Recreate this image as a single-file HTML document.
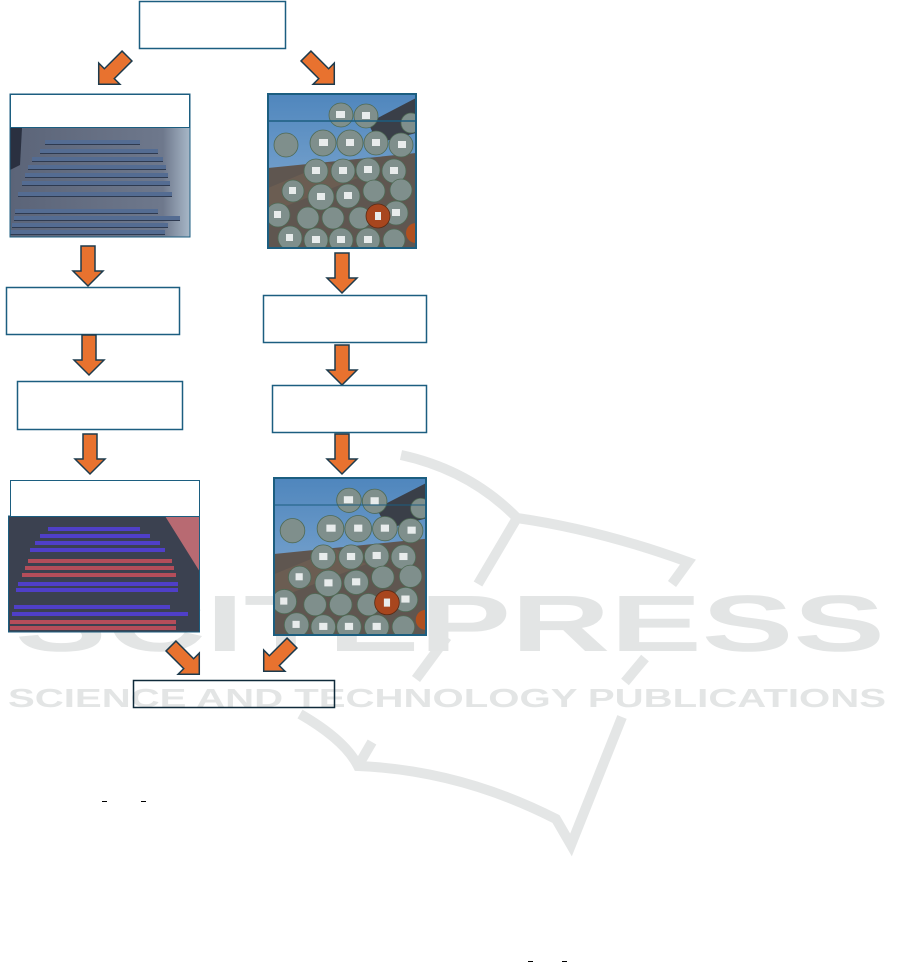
<!DOCTYPE html>
<html><head><meta charset="utf-8"><style>
html,body{margin:0;padding:0;background:#fff;}
svg{display:block;}
</style></head><body>
<svg width="901" height="969" viewBox="0 0 901 969" xmlns="http://www.w3.org/2000/svg">
<defs>
<path id="arr" d="M-7,0 H7 V25 H15 L0,40 L-15,25 H-7 Z" fill="#e8722f" stroke="#1d3b4d" stroke-width="1.5"/>
<linearGradient id="sky" x1="0" y1="0" x2="0" y2="1"><stop offset="0" stop-color="#4f86bd"/><stop offset="1" stop-color="#8fb3d6"/></linearGradient>
<linearGradient id="asph" x1="0" y1="0" x2="1" y2="0"><stop offset="0" stop-color="#5b6478"/><stop offset="0.85" stop-color="#6e788c"/><stop offset="1" stop-color="#a8b8c8"/></linearGradient>
<clipPath id="c1"><rect x="0" y="0" width="148" height="155"/></clipPath>
<g id="logs" clip-path="url(#c1)">
<rect x="0" y="0" width="148" height="155" fill="url(#sky)"/>
<path d="M100,30 L148,5 L148,40 L110,50Z" fill="#3a3f48"/>
<path d="M0,75 L148,60 L148,155 L0,155Z" fill="#5f5650"/>
<path d="M0,95 L60,70 L90,85 L0,120Z" fill="#6b5d52"/>
<g fill="#7f8f8c" stroke="#4f6a55" stroke-width="0.8">
<circle cx="18" cy="52" r="12"/>
<circle cx="73" cy="22" r="12"/><circle cx="98" cy="23" r="12"/><circle cx="143" cy="30" r="10"/>
<circle cx="55" cy="50" r="13"/><circle cx="82" cy="50" r="13"/><circle cx="108" cy="50" r="12"/><circle cx="133" cy="52" r="12"/>
<circle cx="48" cy="78" r="12"/><circle cx="75" cy="78" r="12"/><circle cx="100" cy="77" r="12"/><circle cx="126" cy="78" r="12"/>
<circle cx="25" cy="98" r="11"/><circle cx="53" cy="104" r="13"/><circle cx="80" cy="103" r="12"/><circle cx="106" cy="98" r="11"/><circle cx="133" cy="97" r="11"/>
<circle cx="10" cy="122" r="12"/><circle cx="40" cy="125" r="11"/><circle cx="65" cy="125" r="11"/><circle cx="92" cy="125" r="11"/><circle cx="128" cy="120" r="12"/>
<circle cx="22" cy="145" r="12"/><circle cx="48" cy="147" r="12"/><circle cx="73" cy="147" r="12"/><circle cx="100" cy="147" r="12"/><circle cx="126" cy="147" r="11"/>
</g>
<circle cx="110" cy="123" r="12" fill="#a8461e" stroke="#5a2a14" stroke-width="0.8"/>
<circle cx="148" cy="140" r="10" fill="#b0501f"/>
<g fill="#e8ecec">
<rect x="68" y="18" width="9" height="7"/><rect x="94" y="19" width="8" height="7"/><rect x="51" y="46" width="9" height="7"/><rect x="78" y="46" width="8" height="7"/><rect x="104" y="46" width="8" height="7"/><rect x="130" y="48" width="8" height="7"/>
<rect x="44" y="74" width="8" height="7"/><rect x="71" y="74" width="8" height="7"/><rect x="96" y="73" width="8" height="7"/><rect x="122" y="74" width="8" height="7"/>
<rect x="49" y="100" width="8" height="7"/><rect x="76" y="99" width="8" height="7"/><rect x="21" y="94" width="7" height="7"/><rect x="107" y="119" width="6" height="8"/>
<rect x="18" y="141" width="7" height="7"/><rect x="44" y="143" width="8" height="7"/><rect x="69" y="143" width="8" height="7"/><rect x="96" y="143" width="8" height="7"/><rect x="124" y="116" width="8" height="7"/><rect x="6" y="118" width="7" height="7"/>
</g>
</g>
</defs>

<!-- watermark -->
<g fill="none" stroke="#e4e6e6" stroke-width="10" stroke-linecap="butt">
<path d="M401,455 Q470,470 517,518 Q600,530 688,562 L672,584"/>
<path d="M517,518 L478,584"/>
<path d="M447,637 L416,679"/>
<path d="M645,658 L625,682"/>
<path d="M300,714 Q345,740 358,766 Q460,770 556,819 L571,845 L622,717"/>
<path d="M358,766 L372,742"/>
</g>
<g fill="#e3e5e5" font-family="'Liberation Sans',sans-serif" font-weight="bold">
<text x="15" y="651" font-size="80" textLength="870" lengthAdjust="spacingAndGlyphs">SCITEPRESS</text>
<text x="8" y="707" font-size="26" textLength="878" lengthAdjust="spacingAndGlyphs">SCIENCE AND TECHNOLOGY PUBLICATIONS</text>
</g>

<!-- top box -->
<rect x="139.5" y="1.5" width="146" height="47" fill="#fff" stroke="#1c5e80" stroke-width="1.5"/>
<use href="#arr" transform="translate(127,56) rotate(45)"/>
<use href="#arr" transform="translate(306,56) rotate(-45)"/>

<!-- left photo 1 -->
<rect x="10" y="128" width="180" height="109" fill="url(#asph)"/>
<path d="M10,128 L22,128 L20,165 L10,170Z" fill="#2a3040"/>
<g stroke="#546c92" stroke-width="4">
<line x1="45" y1="142" x2="140" y2="142"/><line x1="40" y1="151" x2="158" y2="151"/><line x1="32" y1="159" x2="163" y2="159"/>
<line x1="28" y1="167" x2="166" y2="167"/><line x1="25" y1="175" x2="168" y2="175"/><line x1="22" y1="183" x2="170" y2="183"/>
<line x1="18" y1="194" x2="172" y2="194"/><line x1="15" y1="211" x2="158" y2="211"/><line x1="14" y1="218" x2="180" y2="218"/><line x1="12" y1="225" x2="168" y2="225"/><line x1="10" y1="232" x2="165" y2="232"/>
</g>
<g stroke="#2e3a50" stroke-width="1">
<line x1="45" y1="144.5" x2="140" y2="144.5"/><line x1="40" y1="153.5" x2="158" y2="153.5"/><line x1="32" y1="161.5" x2="163" y2="161.5"/>
<line x1="28" y1="169.5" x2="166" y2="169.5"/><line x1="25" y1="177.5" x2="168" y2="177.5"/><line x1="22" y1="185.5" x2="170" y2="185.5"/>
<line x1="18" y1="196.5" x2="172" y2="196.5"/><line x1="15" y1="213.5" x2="158" y2="213.5"/><line x1="14" y1="220.5" x2="180" y2="220.5"/><line x1="12" y1="227.5" x2="168" y2="227.5"/><line x1="10" y1="234.5" x2="165" y2="234.5"/>
</g>
<rect x="10" y="94" width="180" height="143" fill="none" stroke="#1c5e80" stroke-width="1"/>
<rect x="10.5" y="94.5" width="179" height="33" fill="#fff" stroke="#1c5e80" stroke-width="1"/>

<!-- right photo 1 -->
<use href="#logs" transform="translate(268,93)"/>
<rect x="268" y="94" width="148" height="154" fill="none" stroke="#1c5e80" stroke-width="2"/>
<line x1="268" y1="121" x2="416" y2="121" stroke="#1c5e80" stroke-width="1.5"/>

<use href="#arr" transform="translate(88,246)"/>
<use href="#arr" transform="translate(342,253)"/>
<rect x="6.5" y="287.5" width="173" height="47" fill="#fff" stroke="#1c5e80" stroke-width="1.5"/>
<rect x="263.5" y="295.5" width="163" height="47" fill="#fff" stroke="#1c5e80" stroke-width="1.5"/>
<use href="#arr" transform="translate(89,335)"/>
<use href="#arr" transform="translate(342,345)"/>
<rect x="17.5" y="381.5" width="165" height="48" fill="#fff" stroke="#1c5e80" stroke-width="1.5"/>
<rect x="272.5" y="385.5" width="154" height="47" fill="#fff" stroke="#1c5e80" stroke-width="1.5"/>
<use href="#arr" transform="translate(90,434)"/>
<use href="#arr" transform="translate(342,434)"/>

<!-- left photo 2 -->
<rect x="8" y="516" width="192" height="116" fill="#3b4150"/>
<path d="M165,516 L200,516 L200,572Z" fill="#b86a72"/>
<g stroke-width="4">
<line x1="48" y1="529" x2="140" y2="529" stroke="#4f3fc8"/><line x1="40" y1="536" x2="150" y2="536" stroke="#4f3fc8"/><line x1="35" y1="543" x2="160" y2="543" stroke="#4f3fc8"/><line x1="30" y1="550" x2="165" y2="550" stroke="#4f3fc8"/>
<line x1="28" y1="561" x2="172" y2="561" stroke="#b44d5a"/><line x1="25" y1="568" x2="174" y2="568" stroke="#b44d5a"/><line x1="22" y1="575" x2="176" y2="575" stroke="#b44d5a"/>
<line x1="18" y1="584" x2="178" y2="584" stroke="#4f3fc8"/><line x1="16" y1="590" x2="178" y2="590" stroke="#4f3fc8"/>
<line x1="14" y1="607" x2="170" y2="607" stroke="#4f3fc8"/><line x1="12" y1="614" x2="188" y2="614" stroke="#4f3fc8"/>
<line x1="10" y1="622" x2="176" y2="622" stroke="#b44d5a"/><line x1="10" y1="628" x2="176" y2="628" stroke="#b44d5a"/>
</g>
<rect x="8.5" y="516" width="191" height="116" fill="none" stroke="#1c5e80" stroke-width="1"/>
<rect x="10.5" y="480.5" width="189" height="36" fill="#fff" stroke="#1c5e80" stroke-width="1"/>

<!-- right photo 2 -->
<use href="#logs" transform="translate(274,478) scale(1.027,1.013)"/>
<rect x="274" y="478" width="152" height="157" fill="none" stroke="#1c5e80" stroke-width="2"/>
<line x1="274" y1="505" x2="426" y2="505" stroke="#1c5e80" stroke-width="1"/>

<use href="#arr" transform="translate(171,646) rotate(-45)"/>
<use href="#arr" transform="translate(292,643) rotate(45)"/>
<rect x="133.5" y="680.5" width="201" height="27" fill="none" stroke="#0f2a3a" stroke-width="1.5"/>

<g stroke="#000" stroke-width="1">
<line x1="102" y1="801.5" x2="107" y2="801.5"/><line x1="141" y1="801.5" x2="146" y2="801.5"/>
<line x1="528" y1="961.5" x2="533" y2="961.5"/><line x1="562" y1="961.5" x2="567" y2="961.5"/>
</g>
</svg>
</body></html>
